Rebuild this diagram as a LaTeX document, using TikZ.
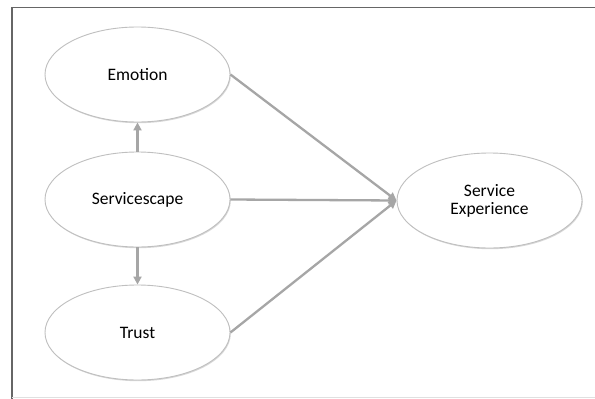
\documentclass[tikz,border=0pt]{standalone}
\usepackage{fontspec}
\setmainfont{Carlito}
\usetikzlibrary{shapes.geometric,arrows.meta,shadows}
\definecolor{linegray}{HTML}{A6A6A6}
\definecolor{ellgray}{HTML}{BFBFBF}
\definecolor{framegray}{HTML}{666666}
\tikzset{
  construct/.style={ellipse, draw=ellgray, line width=0.9pt, fill=white,
    minimum width=185pt, minimum height=95pt, inner sep=0pt,
    font=\fontsize{17.5}{20}\selectfont, align=center,
    drop shadow={shadow xshift=0.8pt, shadow yshift=-1.2pt, opacity=0.25, fill=black!60}},
  path/.style={draw=linegray, line width=2.3pt, -{Triangle[length=8pt,width=8pt]}}
}
\begin{document}
\begin{tikzpicture}[x=1pt,y=-1pt]
\useasboundingbox (0,0) rectangle (595,399);
\fill[white] (0,0) rectangle (595,399);
\draw[framegray, line width=1.8pt] (595,7.5) -- (12,7.5) -- (12,399);
\draw[black!12, line width=0.8pt] (12,397.5) -- (595,397.5);
\node[construct] (emo) at (137.5,74.5) {Emotion};
\node[construct] (svc) at (137.5,199.5) {Servicescape};
\node[construct] (tru) at (137.5,332.5) {Trust};
\node[construct] (sex) at (489.5,200.5) {Service\\[-2pt]Experience};
\draw[path] (svc.north) -- (emo.south);
\draw[path] (svc.south) -- (tru.north);
\draw[path] (emo.east) -- (sex.west);
\draw[path] (svc.east) -- (sex.west);
\draw[path] (tru.east) -- (sex.west);
\end{tikzpicture}
\end{document}
